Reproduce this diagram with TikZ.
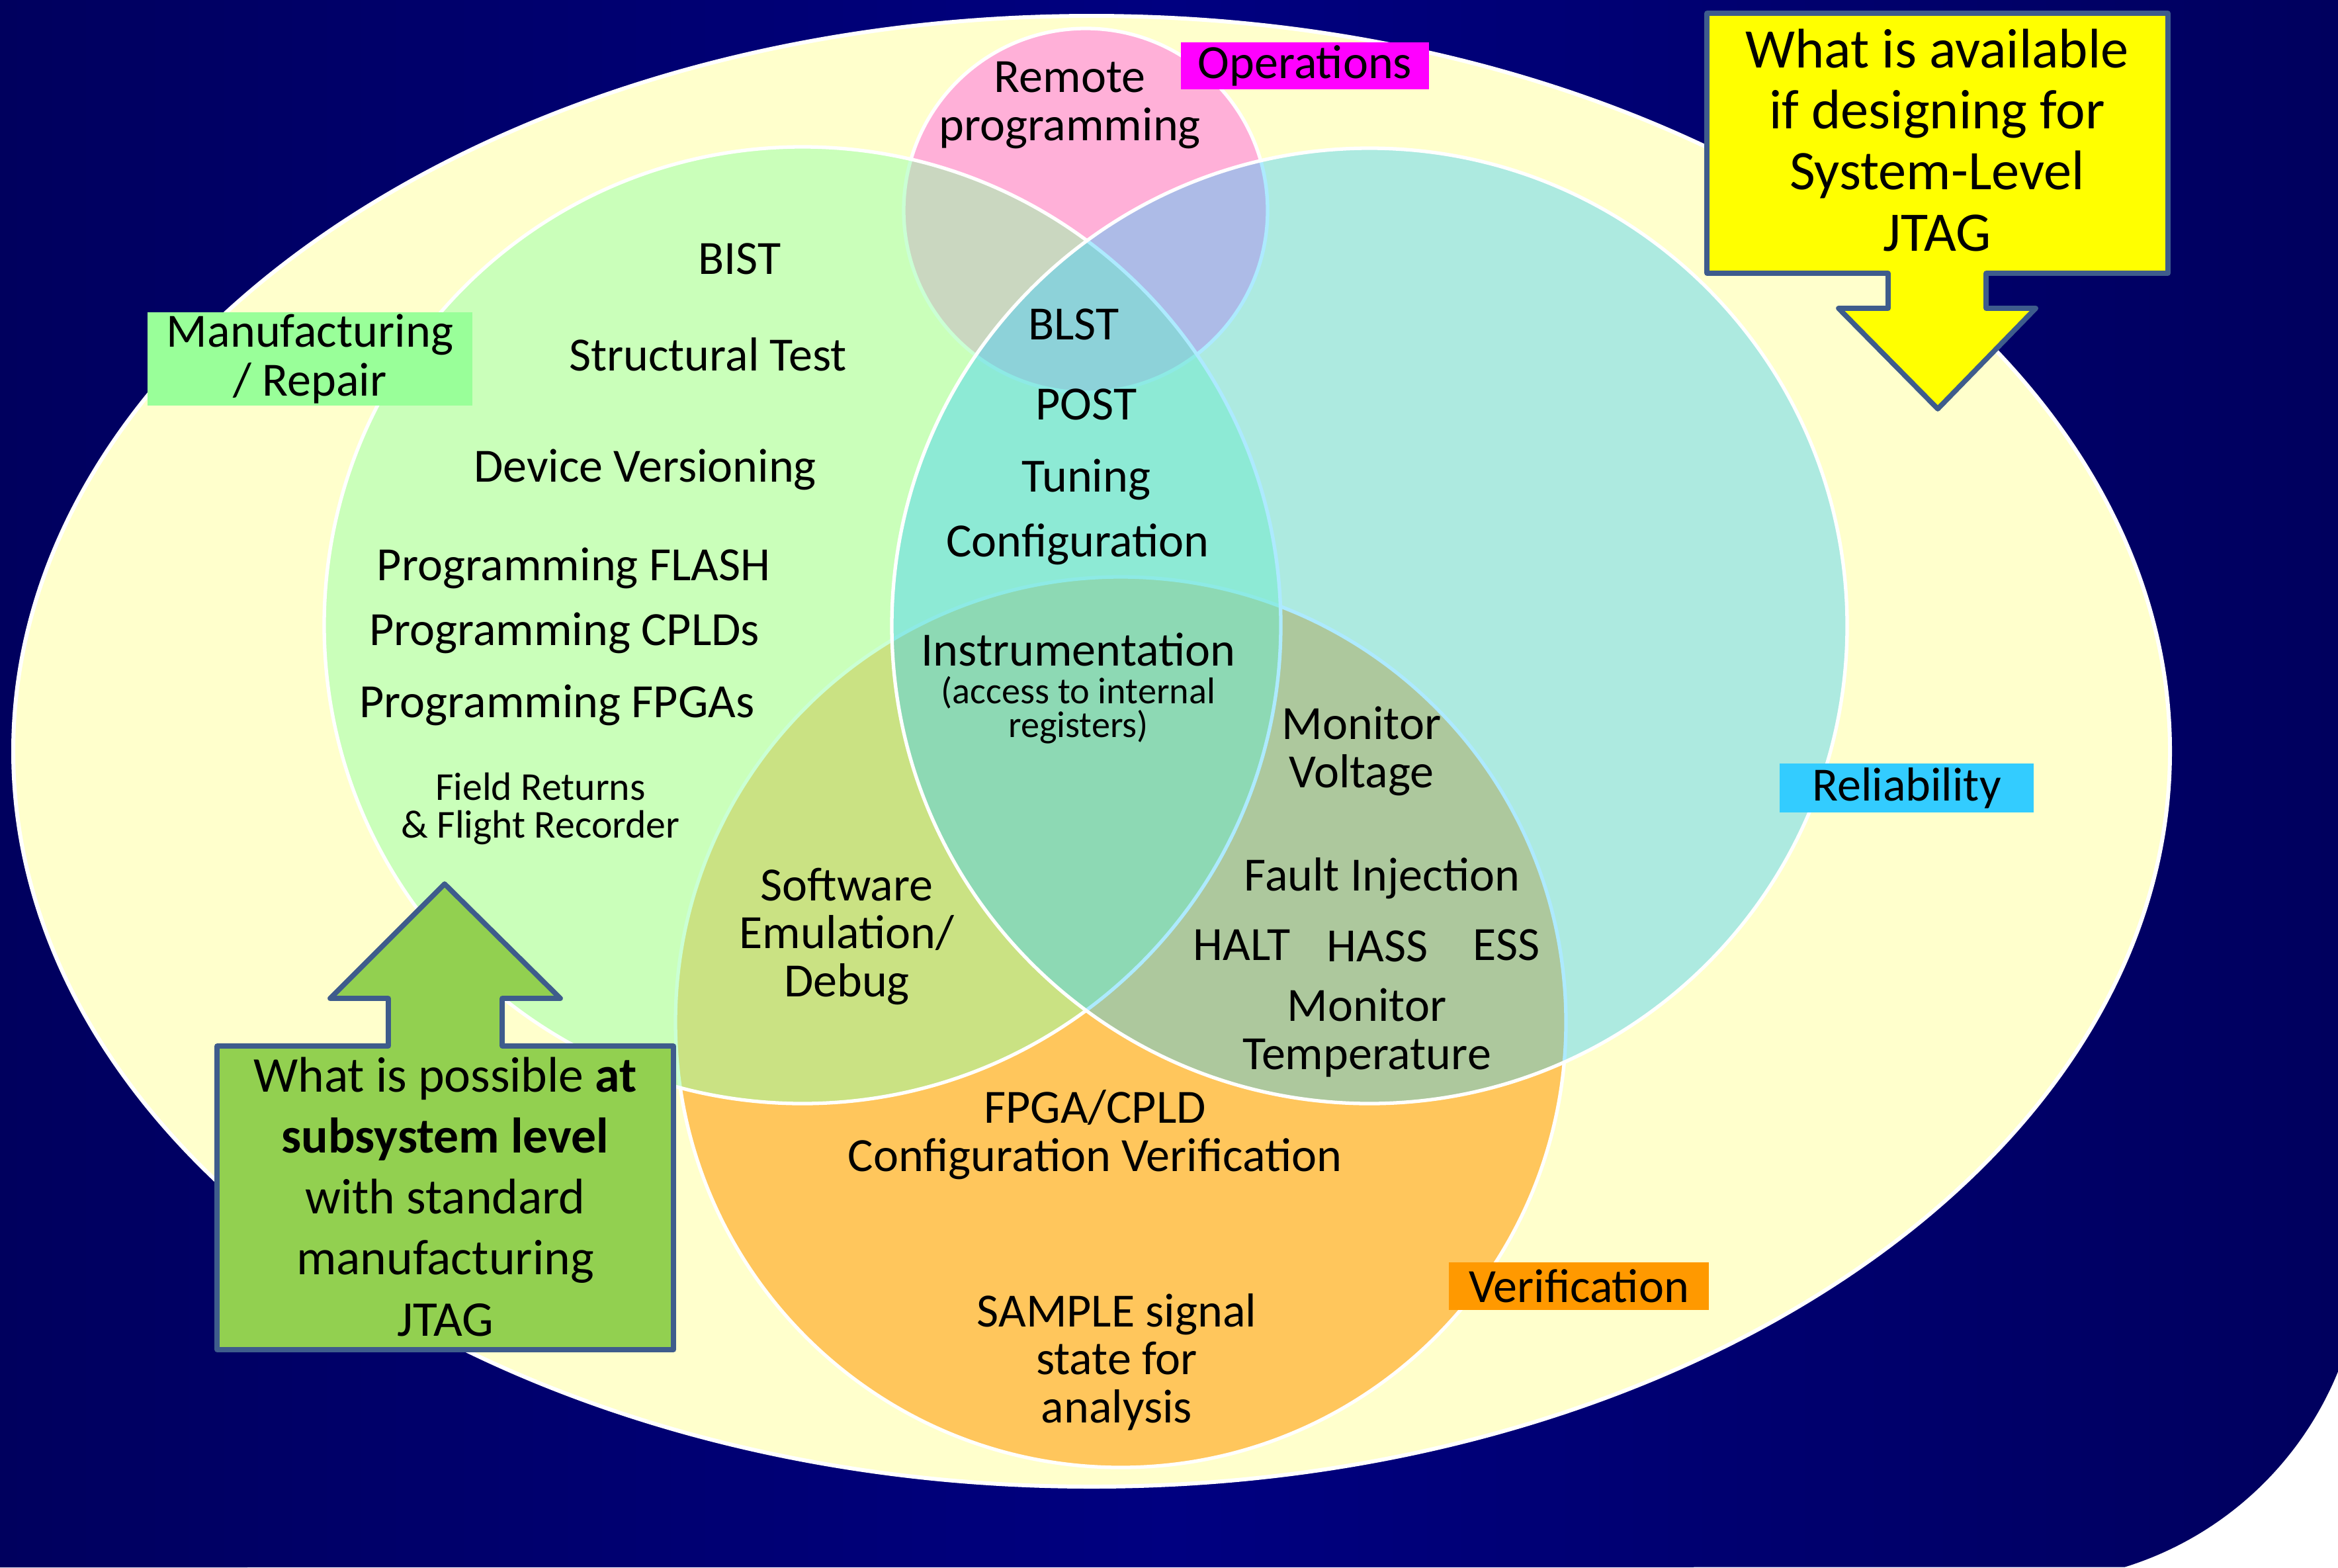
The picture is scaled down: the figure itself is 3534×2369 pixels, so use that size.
\documentclass[tikz,border=0pt]{standalone}
\usepackage{fontspec}
\setmainfont{Carlito}
\usetikzlibrary{positioning}

\definecolor{navydark}{RGB}{0,0,94}
\definecolor{navylight}{RGB}{0,0,128}
\definecolor{paleyellow}{RGB}{255,255,204}
\definecolor{mfggreen}{RGB}{150,255,170}
\definecolor{relblue}{RGB}{51,204,255}
\definecolor{veriforange}{RGB}{255,198,92}
\definecolor{opspink}{RGB}{255,176,216}
\definecolor{tagmagenta}{RGB}{255,0,255}
\definecolor{taggreen}{RGB}{153,255,153}
\definecolor{tagorange}{RGB}{255,153,0}
\definecolor{calloutyellow}{RGB}{255,255,0}
\definecolor{calloutgreen}{RGB}{146,208,80}
\definecolor{calloutedge}{RGB}{62,92,140}

\begin{document}
\begin{tikzpicture}[
    x=0.01cm, y=-0.01cm,
    venn/.style={draw=white, line width=1.5pt},
    item/.style={anchor=base, align=center, inner sep=0pt, font=\fontsize{20.5}{20.5}\selectfont},
    smallitem/.style={item, font=\fontsize{16}{14.5}\selectfont},
    tagbox/.style={inner sep=0pt, align=center, font=\fontsize{20.5}{20.8}\selectfont},
    callout/.style={draw=calloutedge, line width=2.2pt, line join=round},
    callouttext/.style={anchor=base, align=center, inner sep=0pt}
]
    \useasboundingbox (0,0) rectangle (3534,2369);

    % BACKGROUND
    \fill[white] (0,0) rectangle (3534,2369);
    \shade[left color=navydark, right color=navydark, middle color=navylight]
        (0,0) -- (3534,0) -- (3534,2073) arc[start angle=22.2, end angle=72.8, radius=512] -- (0,2369) -- cycle;

    % VENN
    \draw[venn, line width=1.7pt, fill=paleyellow] (1650,1135.5) ellipse [x radius=1630, y radius=1111.5];
    \draw[venn, fill=veriforange] (1694,1545) circle [radius=673];
    \draw[venn, fill=opspink] (1641,318) circle [radius=275];
    \draw[venn, fill=mfggreen, fill opacity=0.5] (1213,945) circle [radius=723];
    \draw[venn, fill=relblue, fill opacity=0.4] (2070,946) circle [radius=722];

    % CALLOUTS
    \draw[callout, fill=calloutyellow] (2580,20) -- (3277,20) -- (3277,413) -- (3002,413) -- (3002,466)
        -- (3077,466) -- (2929,618) -- (2779,466) -- (2854,466) -- (2854,413) -- (2580,413) -- cycle;
    \draw[callout, fill=calloutgreen] (328,1581) -- (587,1581) -- (587,1509) -- (499,1509) -- (672,1336)
        -- (847,1509) -- (759,1509) -- (759,1581) -- (1018,1581) -- (1018,2040) -- (328,2040) -- cycle;

    % multi-line nodes sit on the baseline of their last line
    \node[callouttext, font=\fontsize{24}{26.2}\selectfont] (systemlevel) at (2928,379) {What is available\\if designing for\\System-Level\\JTAG};
    \node[callouttext, font=\fontsize{21.5}{26.2}\selectfont] (subsystem) at (673,2019) {What is possible \textbf{at}\\\textbf{subsystem level}\\with standard\\manufacturing\\JTAG};

    % TAGS
    \node[tagbox, fill=tagmagenta, minimum width=3.75cm, minimum height=0.71cm] (tagops) at (1972.5,99.5) {Operations};
    \node[tagbox, fill=taggreen, minimum width=4.91cm, minimum height=1.41cm] (tagmfg) at (468.5,542.5) {Manufacturing\\/ Repair};
    \node[tagbox, fill=relblue, minimum width=3.84cm, minimum height=0.74cm] (tagrel) at (2882,1191) {Reliability};
    \node[tagbox, fill=tagorange, minimum width=3.93cm, minimum height=0.72cm] (tagver) at (2386.5,1944) {Verification};

    % ITEMS
    \node[item] (bist) at (1118,414) {BIST};
    \node[item] (structural) at (1070,560) {Structural Test};
    \node[item] (versioning) at (975,728) {Device Versioning};
    \node[item] (progflash) at (867,877) {Programming FLASH};
    \node[item] (progcpld) at (853,975) {Programming CPLDs};
    \node[item] (progfpga) at (842,1084) {Programming FPGAs};
    \node[smallitem, font=\fontsize{17}{16.2}\selectfont] (fieldret) at (817,1266) {Field Returns\\\& Flight Recorder};

    \node[item] (remote) at (1617,212) {Remote\\programming};
    \node[item] (blst) at (1623,513) {BLST};
    \node[item] (post) at (1642,634) {POST};
    \node[item] (tuning) at (1642,743) {Tuning};
    \node[item] (config) at (1629,841) {Configuration};
    \node[item] (instrument) at (1630,1006) {Instrumentation};
    \node[smallitem] (access) at (1630,1114) {(access to internal\\registers)};

    \node[item] (monvolt) at (2058,1190) {Monitor\\Voltage};
    \node[item] (faultinj) at (2089,1346) {Fault Injection};
    \node[item] (halt) at (1877,1451) {HALT};
    \node[item] (hass) at (2082,1453) {HASS};
    \node[item] (ess) at (2277,1451) {ESS};
    \node[item] (montemp) at (2066,1616) {Monitor\\Temperature};

    \node[item] (swemu) at (1280,1506) {Software\\Emulation/\\Debug};
    \node[item] (fpgaver) at (1655,1770) {FPGA/CPLD\\Configuration Verification};
    \node[item] (sample) at (1688,2150) {SAMPLE signal\\state for\\analysis};

\end{tikzpicture}
\end{document}
